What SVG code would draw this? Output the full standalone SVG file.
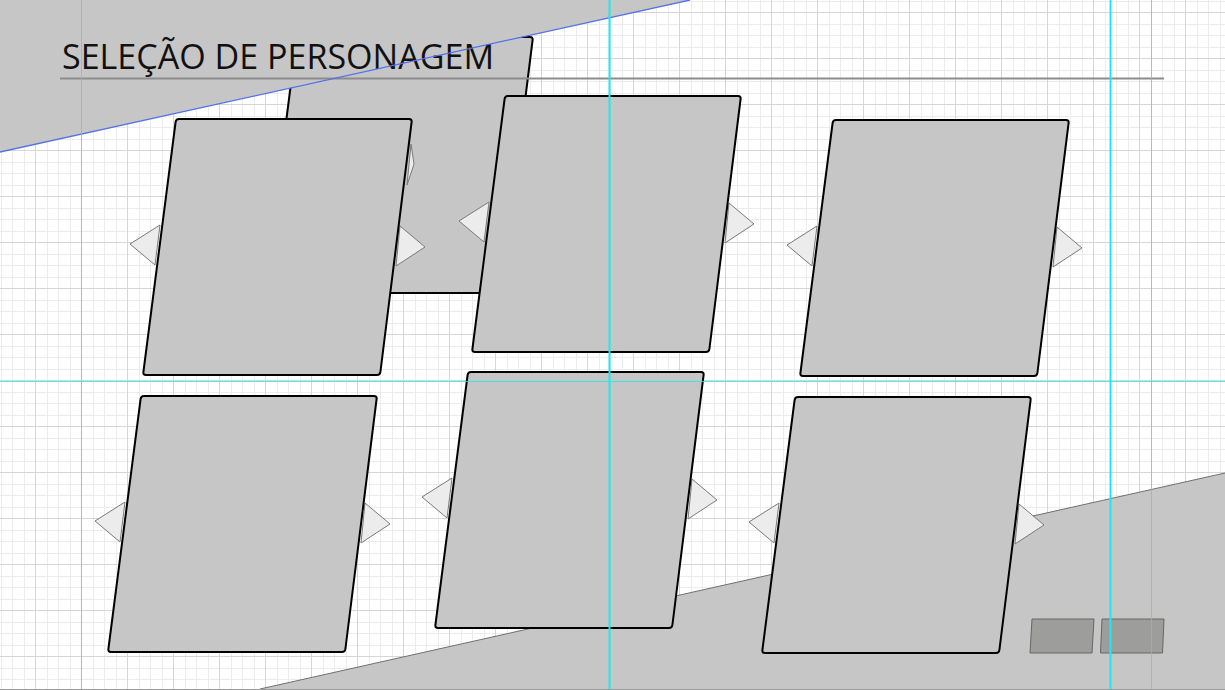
<svg xmlns="http://www.w3.org/2000/svg" xmlns:xlink="http://www.w3.org/1999/xlink" width="1225" height="690" viewBox="0 0 1225 690">
  <style>
    .card { fill: #c6c6c6; stroke: #000; stroke-width: 2; }
    .tri { fill: #ececec; stroke: #7a7a7a; stroke-width: 1; stroke-linejoin: round; }
    .bg { fill: #c6c6c6; }
    .btn { fill: #9d9d9b; stroke: #666; stroke-width: 1; stroke-linejoin: round; }
    .guide { stroke: #1ee8f0; fill: none; }
    .title { font-family: "Open Sans", "Liberation Sans", sans-serif; font-size: 35px; fill: #111; }
  </style>
  <defs>
    <pattern id="grid" patternUnits="userSpaceOnUse" x="35" y="12" width="46" height="46">
      <rect x="0" y="0" width="46" height="46" fill="#fff"/>
      <rect x="12" y="0" width="1" height="46" fill="#ececec"/>
      <rect x="23" y="0" width="1" height="46" fill="#ececec"/>
      <rect x="35" y="0" width="1" height="46" fill="#ececec"/>
      <rect x="0" y="12" width="46" height="1" fill="#ececec"/>
      <rect x="0" y="23" width="46" height="1" fill="#ececec"/>
      <rect x="0" y="35" width="46" height="1" fill="#ececec"/>
      <rect x="0" y="0" width="1" height="46" fill="#d6d6d6"/>
      <rect x="0" y="0" width="46" height="1" fill="#d6d6d6"/>
    </pattern>
    <path id="cardShape" d="M3,0 H233 Q236,0 235.6,3 L204.4,253 Q204,256 201,256 H-30 Q-33,256 -32.6,253 L-0.4,3 Q0,0 3,0 Z"/>
    <polygon id="triL" points="-46,125 -16,106 -21,146"/>
    <polygon id="triR" points="224,107 249,128 220,147"/>
  </defs>

  <rect x="0" y="0" width="1225" height="690" fill="url(#grid)"/>

  <!-- back card (partly hidden) -->
  <g id="card-back" transform="translate(297,37)">
    <use href="#triL" class="tri"/>
    <use href="#triR" class="tri"/>
    <use href="#cardShape" class="card"/>
  </g>

  <!-- background shapes -->
  <polygon id="bg-top" class="bg" points="0,0 690,0 0,152"/>
  <polygon id="bg-bottom" class="bg" points="260,689 1225,473 1225,690 260,690"/>
  <line x1="260" y1="689" x2="1225" y2="473" stroke="#707070" stroke-width="1"/>

  <polygon id="sliver" class="tri" points="411,144 414,164 407,185"/>

  <g id="card-1" transform="translate(176,119)">
    <use href="#triL" class="tri"/>
    <use href="#triR" class="tri"/>
    <use href="#cardShape" class="card"/>
  </g>
  <g id="card-2" transform="translate(505,96)">
    <use href="#triL" class="tri"/>
    <use href="#triR" class="tri"/>
    <use href="#cardShape" class="card"/>
  </g>
  <g id="card-3" transform="translate(833,120)">
    <use href="#triL" class="tri"/>
    <use href="#triR" class="tri"/>
    <use href="#cardShape" class="card"/>
  </g>
  <g id="card-4" transform="translate(141,396)">
    <use href="#triL" class="tri"/>
    <use href="#triR" class="tri"/>
    <use href="#cardShape" class="card"/>
  </g>
  <g id="card-5" transform="translate(468,372)">
    <use href="#triL" class="tri"/>
    <use href="#triR" class="tri"/>
    <use href="#cardShape" class="card"/>
  </g>
  <g id="card-6" transform="translate(795,397)">
    <use href="#triL" class="tri"/>
    <use href="#triR" class="tri"/>
    <use href="#cardShape" class="card"/>
  </g>

  <g id="button-1">
    <polygon class="btn" points="1032,619 1094,619 1092,653 1030,653"/>
  </g>
  <g id="button-2">
    <polygon class="btn" points="1102,619 1164,619 1162.5,653 1100.5,653"/>
  </g>

  <g id="title">
    <text class="title" x="62" y="68.5" textLength="432" lengthAdjust="spacingAndGlyphs">SELEÇÃO DE PERSONAGEM</text>
    <line x1="60" y1="78.5" x2="1164" y2="78.5" stroke="#8c8c8c" stroke-width="2"/>
  </g>

  <g id="guides">
    <line x1="0" y1="152" x2="690" y2="0" stroke="#5472e8" stroke-width="1.3"/>
    <line class="guide" x1="609.5" y1="0" x2="609.5" y2="690" stroke-width="2"/>
    <line class="guide" x1="1110.5" y1="0" x2="1110.5" y2="690" stroke-width="2"/>
    <line class="guide" x1="81.5" y1="0" x2="81.5" y2="690" stroke-width="1" opacity="0.8"/>
    <line class="guide" x1="1151.5" y1="0" x2="1151.5" y2="690" stroke-width="1" opacity="0.8"/>
    <line class="guide" x1="0" y1="381.5" x2="1225" y2="381.5" stroke-width="1" opacity="0.8"/>
    <line x1="0" y1="689.5" x2="1225" y2="689.5" stroke="#9a9a9a" stroke-width="1"/>
  </g>
</svg>
